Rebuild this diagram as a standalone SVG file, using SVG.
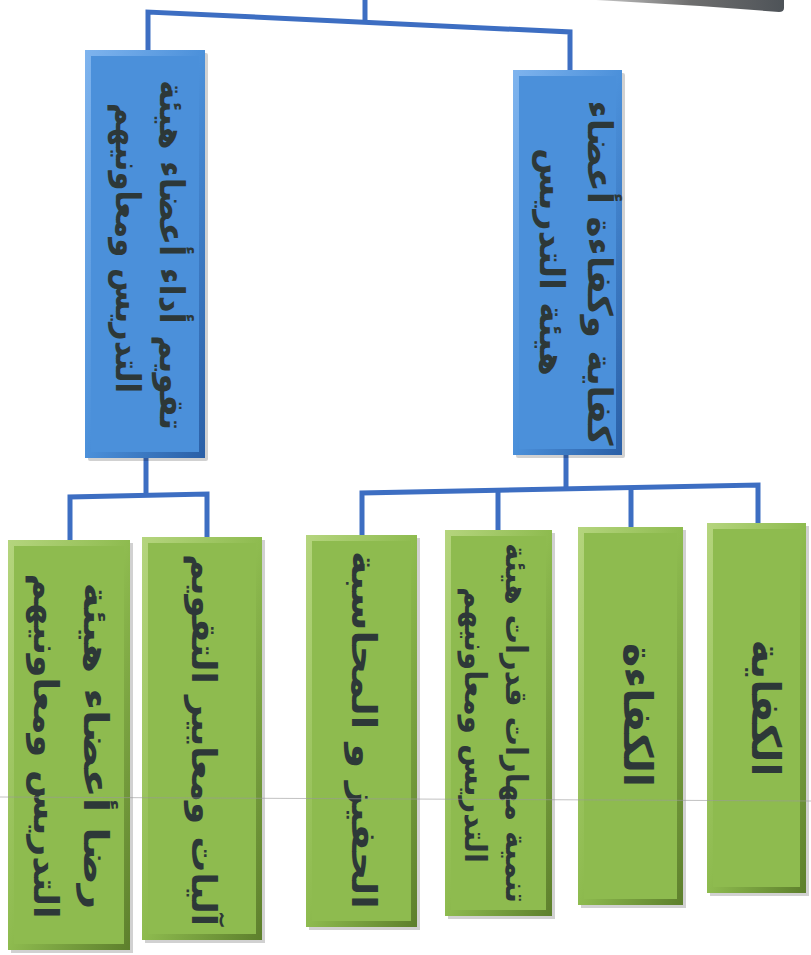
<svg xmlns="http://www.w3.org/2000/svg" width="811" height="955" viewBox="0 0 811 955">
<style>
.conn{fill:none;stroke:#3d6ec2;stroke-width:5;stroke-linejoin:miter}
.blue-in{fill:#4b90da}
.green-in{fill:#8ebb4f}
.shadow{fill:#000;opacity:0.18}
.lbl{font-family:"DejaVu Sans",sans-serif;font-weight:bold;font-size:34px;fill:#2d3838;text-anchor:middle}
.big{font-size:40px}
.small{font-size:30px}
.scan{stroke:#9a9a9a;stroke-width:1;opacity:0.6}
</style>
<defs>
<linearGradient id="bevB" x1="0" y1="0" x2="1" y2="1">
<stop offset="0" stop-color="#7fb4ee"/>
<stop offset="0.5" stop-color="#4b90da"/>
<stop offset="1" stop-color="#2a5fa6"/>
</linearGradient>
<linearGradient id="bevG" x1="0" y1="0" x2="1" y2="1">
<stop offset="0" stop-color="#b5d57e"/>
<stop offset="0.5" stop-color="#8ebb4f"/>
<stop offset="1" stop-color="#5d7f2c"/>
</linearGradient>
<linearGradient id="grayBar" x1="0" y1="0" x2="1" y2="0">
<stop offset="0" stop-color="#c8c8c8"/>
<stop offset="0.5" stop-color="#6e6e6e"/>
<stop offset="1" stop-color="#4e5358"/>
</linearGradient>
</defs>
<rect width="811" height="955" fill="#ffffff"/>

<g id="root">
<path d="M596,0 L784,0 L784,8 Q784,12 779,12 L700,6 Z" fill="url(#grayBar)"/>
</g>

<g id="connectors">
<path class="conn" d="M365,0 V22"/>
<path class="conn" d="M148,52 V12 L570,32 V72"/>
<path class="conn" d="M146,456 V496"/>
<path class="conn" d="M70,542 V497 L207,494 V539"/>
<path class="conn" d="M566,453 V490"/>
<path class="conn" d="M362,537 V493 L758,485 V525"/>
<path class="conn" d="M498,532 V490"/>
<path class="conn" d="M631,529 V488"/>
</g>

<g id="node-blue-left">
<rect class="shadow" x="88" y="53" width="120" height="408" rx="2"/>
<rect x="85" y="50" width="120" height="408" fill="url(#bevB)"/>
<rect class="blue-in" x="91" y="56" width="108" height="396"/>
<text class="lbl" transform="translate(160 255) rotate(90)" textLength="350" lengthAdjust="spacingAndGlyphs">تقويم أداء أعضاء هيئة</text>
<text class="lbl" transform="translate(116 248) rotate(90)" textLength="290" lengthAdjust="spacingAndGlyphs">التدريس ومعاونيهم</text>
</g>

<g id="node-blue-right">
<rect class="shadow" x="516" y="73" width="109" height="385" rx="2"/>
<rect x="513" y="70" width="109" height="385" fill="url(#bevB)"/>
<rect class="blue-in" x="519" y="76" width="97" height="373"/>
<text class="lbl" transform="translate(588 273) rotate(90)" textLength="345" lengthAdjust="spacingAndGlyphs">كفاية وكفاءة أعضاء</text>
<text class="lbl" transform="translate(540 262) rotate(90)" textLength="228" lengthAdjust="spacingAndGlyphs">هيئة التدريس</text>
</g>

<g id="node-g1">
<rect class="shadow" x="11" y="543" width="122" height="410"/>
<rect x="8" y="540" width="122" height="410" fill="url(#bevG)"/>
<rect class="green-in" x="14" y="546" width="110" height="398"/>
<text class="lbl" transform="translate(84 746) rotate(90)" textLength="327" lengthAdjust="spacingAndGlyphs">رضا أعضاء هيئة</text>
<text class="lbl" transform="translate(34 746) rotate(90)" textLength="345" lengthAdjust="spacingAndGlyphs">التدريس ومعاونيهم</text>
</g>

<g id="node-g2">
<rect class="shadow" x="145" y="540" width="120" height="403"/>
<rect x="142" y="537" width="120" height="403" fill="url(#bevG)"/>
<rect class="green-in" x="148" y="543" width="108" height="391"/>
<text class="lbl" transform="translate(192 740) rotate(90)" textLength="372" lengthAdjust="spacingAndGlyphs">آليات ومعايير التقويم</text>
</g>

<g id="node-g3">
<rect class="shadow" x="309" y="538" width="111" height="392"/>
<rect x="306" y="535" width="111" height="392" fill="url(#bevG)"/>
<rect class="green-in" x="312" y="541" width="99" height="380"/>
<text class="lbl" transform="translate(352 730) rotate(90)" textLength="358" lengthAdjust="spacingAndGlyphs">الحفيز و المحاسبة</text>
</g>

<g id="node-g4">
<rect class="shadow" x="448" y="533" width="107" height="386"/>
<rect x="445" y="530" width="107" height="386" fill="url(#bevG)"/>
<rect class="green-in" x="451" y="536" width="95" height="374"/>
<text class="lbl small" transform="translate(506 723) rotate(90)" textLength="360" lengthAdjust="spacingAndGlyphs">تنمية مهارات قدرات هيئة</text>
<text class="lbl small" transform="translate(465 725) rotate(90)" textLength="276" lengthAdjust="spacingAndGlyphs">التدريس ومعاونيهم</text>
</g>

<g id="node-g5">
<rect class="shadow" x="581" y="530" width="105" height="378"/>
<rect x="578" y="527" width="105" height="378" fill="url(#bevG)"/>
<rect class="green-in" x="584" y="533" width="93" height="366"/>
<text class="lbl big" transform="translate(624 715) rotate(90)" textLength="144" lengthAdjust="spacingAndGlyphs">الكفاءة</text>
</g>

<g id="node-g6">
<rect class="shadow" x="710" y="526" width="99" height="370"/>
<rect x="707" y="523" width="99" height="370" fill="url(#bevG)"/>
<rect class="green-in" x="713" y="529" width="87" height="358"/>
<text class="lbl big" transform="translate(752 708) rotate(90)" textLength="137" lengthAdjust="spacingAndGlyphs">الكفاية</text>
</g>

<line class="scan" x1="0" y1="797" x2="811" y2="801"/>
</svg>
